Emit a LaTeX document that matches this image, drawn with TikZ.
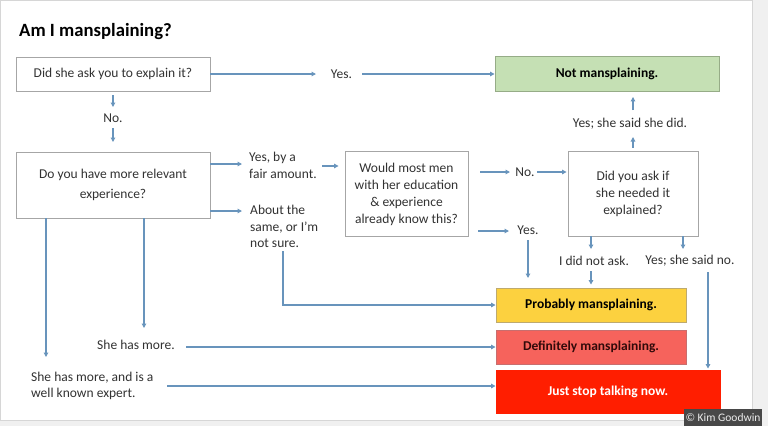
\documentclass[tikz,border=0pt]{standalone}
\usepackage{fontspec}
\setmainfont{Carlito}
\usetikzlibrary{arrows.meta,calc}
\definecolor{arrowc}{RGB}{104,148,188}
\definecolor{boxline}{RGB}{166,166,166}
\definecolor{bodytext}{RGB}{50,50,50}
\definecolor{greenfill}{RGB}{197,224,180}
\definecolor{greenline}{RGB}{150,172,135}
\definecolor{yellowfill}{RGB}{252,209,63}
\definecolor{yellowline}{RGB}{190,170,110}
\definecolor{salmonfill}{RGB}{246,99,92}
\definecolor{salmonline}{RGB}{200,110,110}
\definecolor{salmontext}{RGB}{50,10,10}
\definecolor{redfill}{RGB}{255,30,0}
\definecolor{pagebg}{RGB}{240,240,240}
\definecolor{slideline}{RGB}{214,214,214}
\definecolor{copyfill}{RGB}{72,72,72}
\tikzset{
  arr/.style={draw=arrowc, line width=1.2pt, -{Triangle[length=4.5pt,width=4.5pt]}},
  qbox/.style={draw=boxline, line width=0.9pt, fill=white, align=center, inner sep=2pt, text=bodytext},
  resbox/.style={line width=0.9pt, align=center, inner sep=2pt, font=\fontsize{13.5}{16.5}\selectfont\bfseries},
  lbl/.style={inner sep=0pt, align=left, text=bodytext},
}
\begin{document}
\begin{tikzpicture}[x=1pt,y=-1pt, font=\fontsize{13.5}{16.5}\selectfont]
\useasboundingbox (0,0) rectangle (768,426);
\fill[pagebg] (0,0) rectangle (768,426);
\filldraw[fill=white, draw=slideline, line width=0.8pt] (0.5,0.5) rectangle (752,420);

% title
\node[inner sep=0pt, anchor=base west, font=\fontsize{18.7}{22}\selectfont\bfseries] (title) at (19,36) {Am I mansplaining?};

% question boxes
\node[qbox, minimum width=194pt, minimum height=34pt] (q1) at (113,74) {Did she ask you to explain it?};
\node[qbox, minimum width=194pt, minimum height=66pt, font=\fontsize{13.5}{20}\selectfont] (q2) at (113,185) {Do you have more relevant\\experience?};
\node[qbox, minimum width=123pt, minimum height=85pt, font=\fontsize{13.5}{17}\selectfont] (q3) at (406.5,194) {Would most men\\with her education\\\& experience\\already know this?};
\node[qbox, minimum width=130pt, minimum height=85pt, font=\fontsize{13.5}{17}\selectfont] (q4) at (633,193.5) {Did you ask if\\she needed it\\explained?};

% result boxes
\node[resbox, draw=greenline, fill=greenfill, minimum width=224pt, minimum height=35pt] (notm) at (607,74) {Not mansplaining.};
\node[resbox, draw=yellowline, fill=yellowfill, minimum width=190pt, minimum height=34pt] (prob) at (591,305) {Probably mansplaining.};
\node[resbox, draw=salmonline, fill=salmonfill, text=salmontext, minimum width=190pt, minimum height=34pt] (def) at (591,347) {Definitely mansplaining.};
\node[resbox, draw=redfill, fill=redfill, text=white, minimum width=224pt, minimum height=43pt] (stop) at (608,391.5) {Just stop talking now.};

% labels
\node[lbl] (yes1) at (341.5,74) {Yes.};
\node[lbl] (no1) at (113,118) {No.};
\node[lbl, anchor=west] (yfa) at (249,165.5) {Yes, by a\\fair amount.};
\node[lbl, anchor=west] (abt) at (250,226.5) {About the\\same, or I’m\\not sure.};
\node[lbl] (no2) at (525,172) {No.};
\node[lbl] (yes2) at (528,230) {Yes.};
\node[lbl] (yssd) at (630,124) {Yes; she said she did.};
\node[lbl] (idna) at (594,261) {I did not ask.};
\node[lbl] (yssn) at (690,261) {Yes; she said no.};
\node[lbl] (shm) at (136,345) {She has more.};
\node[lbl, anchor=west] (shme) at (31,386) {She has more, and is a\\well known expert.};

% copyright
\node[fill=copyfill, text=white!85!gray, inner sep=0pt, minimum width=78pt, minimum height=17pt, font=\fontsize{11.5}{13}\selectfont] (copy) at (723,417.5) {© Kim Goodwin};

% connector end points
\coordinate (c1) at (316,74);
\coordinate (c2) at (362,74);
\coordinate (c3) at (113,95);
\coordinate (c4) at (113,107);
\coordinate (c5) at (113,128);
\coordinate (c6) at (113,142);
\coordinate (c7) at (242,164);
\coordinate (c8) at (322,166);
\coordinate (c10) at (242,211);
\coordinate (c11) at (283,251);
\coordinate (c12) at (144,328);
\coordinate (c13) at (186,347);
\coordinate (c14) at (46,357);
\coordinate (c15) at (167,386);
\coordinate (c16) at (480,172);
\coordinate (c17) at (510,172);
\coordinate (c18) at (537,172);
\coordinate (c19) at (478,231);
\coordinate (c20) at (509,231);
\coordinate (c21) at (528,240);
\coordinate (c22) at (528,278);
\coordinate (c23) at (633,137);
\coordinate (c24) at (633,110);
\coordinate (c25) at (591,249);
\coordinate (c26) at (591,271);
\coordinate (c27) at (683,249);
\coordinate (c28) at (708,272);

% connectors
\draw[arr] (q1.east) -- (c1);
\draw[arr] (c2) -- (notm.west);
\draw[arr] (c3) -- (c4);
\draw[arr] (c5) -- (c6);
\draw[arr] (q2.east |- c7) -- (c7);
\draw[arr, shorten >=6pt] (c8) -- (c8 -| q3.west);
\draw[arr] (q2.east |- c10) -- (c10);
\draw[arr] (c11) |- (prob.west);
\draw[arr] (q2.south -| c12) -- (c12);
\draw[arr] (c13) -- (c13 -| def.west);
\draw[arr] (q2.south -| c14) -- (c14);
\draw[arr] (c15) -- (c15 -| stop.west);
\draw[arr] (c16) -- (c17);
\draw[arr, shorten >=1pt] (c18) -- (c18 -| q4.west);
\draw[arr] (c19) -- (c20);
\draw[arr] (c21) -- (c22);
\draw[arr, shorten <=3pt] (q4.north -| c23) -- (c23);
\draw[arr, shorten >=5pt] (c24) -- (c24 |- notm.south);
\draw[arr] (q4.south -| c25) -- (c25);
\draw[arr, shorten >=3pt] (c26) -- (c26 |- prob.north);
\draw[arr] (q4.south -| c27) -- (c27);
\draw[arr, shorten >=1pt] (c28) -- (c28 |- stop.north);
\end{tikzpicture}
\end{document}
